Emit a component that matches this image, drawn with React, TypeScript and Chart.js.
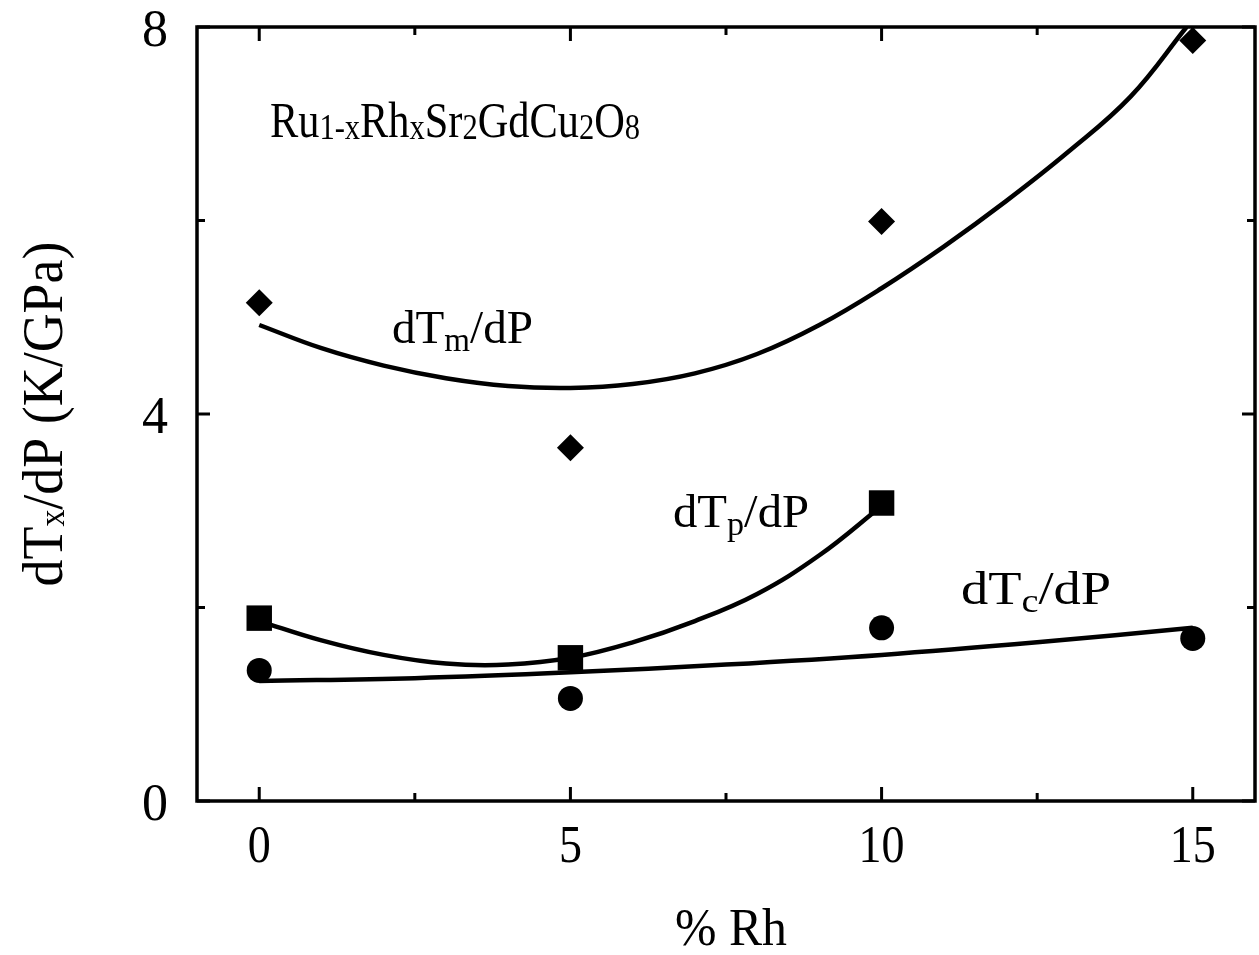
import React, { useEffect, useRef } from 'react';
import { Chart, registerables } from 'chart.js';

Chart.register(...registerables);

// ---- data ----
const rhPercent = [0, 5, 10, 15];
const dTmValues = [5.15, 3.65, 5.99, 7.86];
const dTpX = [0, 5, 10];
const dTpValues = [1.89, 1.48, 3.08];
const dTcValues = [1.35, 1.06, 1.79, 1.68];

// fitted guide curves
const fitTmX = [0, 1, 2, 3, 4, 5, 6, 7, 8, 9, 10, 11, 12, 13, 14, 14.9];
const fitTmY = [4.92, 4.68, 4.5, 4.37, 4.29, 4.27, 4.31, 4.42, 4.62, 4.92, 5.3, 5.73, 6.2, 6.71, 7.28, 8.0];
const fitTpX = [0, 1, 2, 3, 4, 5, 6, 7, 8, 9, 10];
const fitTpY = [1.86, 1.66, 1.51, 1.42, 1.41, 1.48, 1.64, 1.86, 2.14, 2.54, 3.05];
const fitTcX = [0, 2.5, 5, 7.5, 10, 12.5, 15];
const fitTcY = [1.24, 1.27, 1.33, 1.41, 1.51, 1.64, 1.79];

// axes
const xTickValues = [0, 2.5, 5, 7.5, 10, 12.5, 15];
const xTickLabels = ['0', '', '5', '', '10', '', '15'];
const yTickValues = [0, 2, 4, 6, 8];
const yTickLabels = ['0', '', '4', '', '8'];
const xMin = -1;
const xMax = 16;
const yMin = 0;
const yMax = 8;

const xTitle = '% Rh';
const FONT = '"Liberation Serif", "Times New Roman", serif';

type Seg = [string, boolean];

const yTitleSegs: Seg[] = [['dT', false], ['x', true], ['/dP (K/GPa)', false]];
const formulaSegs: Seg[] = [
  ['Ru', false], ['1-x', true], ['Rh', false], ['x', true], ['Sr', false], ['2', true],
  ['GdCu', false], ['2', true], ['O', false], ['8', true],
];
const tmLabel: Seg[] = [['dT', false], ['m', true], ['/dP', false]];
const tpLabel: Seg[] = [['dT', false], ['p', true], ['/dP', false]];
const tcLabel: Seg[] = [['dT', false], ['c', true], ['/dP', false]];

function drawRich(
  ctx: CanvasRenderingContext2D,
  segs: Seg[],
  x: number,
  y: number,
  size: number,
  opts: { width?: number; align?: 'left' | 'center' | 'right'; subScale?: number; subDrop?: number; rotate?: boolean }
) {
  const subScale = opts.subScale ?? 0.7;
  const subDrop = opts.subDrop ?? 0.1;
  let natural = 0;
  const widths: number[] = [];
  for (const [t, sub] of segs) {
    ctx.font = `${Math.round(sub ? size * subScale : size)}px ${FONT}`;
    const w = ctx.measureText(t).width;
    widths.push(w);
    natural += w;
  }
  const sx = opts.width ? opts.width / natural : 1;
  ctx.save();
  ctx.translate(x, y);
  if (opts.rotate) ctx.rotate(-Math.PI / 2);
  ctx.scale(sx, 1);
  let cx = 0;
  if (opts.align === 'center') cx = -natural / 2;
  else if (opts.align === 'right') cx = -natural;
  ctx.textBaseline = 'alphabetic';
  ctx.textAlign = 'left';
  ctx.fillStyle = '#000';
  segs.forEach(([t, sub], i) => {
    ctx.font = `${Math.round(sub ? size * subScale : size)}px ${FONT}`;
    ctx.fillText(t, cx, sub ? subDrop * size : 0);
    cx += widths[i];
  });
  ctx.restore();
}

const framePlugin = {
  id: 'frame',
  afterDraw(chart: any) {
    const { ctx, chartArea } = chart;
    const xs = chart.scales.x;
    const ys = chart.scales.y;
    const { left, right, top, bottom } = chartArea;
    ctx.save();
    ctx.strokeStyle = '#000';
    ctx.lineWidth = 3.5;
    ctx.strokeRect(left, top, right - left, bottom - top);

    ctx.lineWidth = 3;
    ctx.beginPath();
    xTickValues.forEach((v, i) => {
      const px = xs.getPixelForValue(v);
      const len = xTickLabels[i] ? 14 : 8;
      ctx.moveTo(px, bottom);
      ctx.lineTo(px, bottom - len);
      ctx.moveTo(px, top);
      ctx.lineTo(px, top + len);
    });
    yTickValues.forEach((v, i) => {
      const py = ys.getPixelForValue(v);
      const len = yTickLabels[i] ? 13 : 8;
      ctx.moveTo(left, py);
      ctx.lineTo(left + len, py);
      ctx.moveTo(right, py);
      ctx.lineTo(right - len, py);
    });
    ctx.stroke();

    // tick labels
    xTickValues.forEach((v, i) => {
      if (!xTickLabels[i]) return;
      const px = xs.getPixelForValue(v);
      drawRich(ctx, [[xTickLabels[i], false]], px, 862, 52, { align: 'center', width: xTickLabels[i].length * 23 });
    });
    yTickValues.forEach((v, i) => {
      if (!yTickLabels[i]) return;
      const py = ys.getPixelForValue(v);
      drawRich(ctx, [[yTickLabels[i], false]], left - 29, py + 18.5, 52, { align: 'right' });
    });

    // axis titles
    drawRich(ctx, [[xTitle, false]], 731, 945, 52, { align: 'center', width: 112 });
    drawRich(ctx, yTitleSegs, 62, 414, 56, { align: 'center', width: 345, rotate: true, subDrop: 0.03, subScale: 0.62 });

    // annotations
    drawRich(ctx, formulaSegs, 270, 137, 50, { width: 370, subDrop: 0.04, subScale: 0.72 });
    drawRich(ctx, tmLabel, 392, 343, 47, { width: 141, subDrop: 0.16 });
    drawRich(ctx, tpLabel, 673, 527, 47, { width: 136, subDrop: 0.16 });
    drawRich(ctx, tcLabel, 961, 604, 47, { width: 150, subDrop: 0.16 });
    ctx.restore();
  },
};

function pts(xa: number[], ya: number[]) {
  return xa.map((x, i) => ({ x, y: ya[i] }));
}

export default function App() {
  const ref = useRef<HTMLCanvasElement | null>(null);
  useEffect(() => {
    if (!ref.current) return;
    const lineBase = {
      type: 'line' as const,
      showLine: true,
      borderColor: '#000',
      borderWidth: 4.5,
      pointRadius: 0,
      fill: false,
      tension: 0.4,
    };
    const chart = new Chart(ref.current, {
      type: 'scatter',
      data: {
        datasets: [
          { ...lineBase, label: 'fit Tm', data: pts(fitTmX, fitTmY) },
          { ...lineBase, label: 'fit Tp', data: pts(fitTpX, fitTpY) },
          { ...lineBase, label: 'fit Tc', data: pts(fitTcX, fitTcY) },
          {
            label: 'dTm/dP',
            data: pts(rhPercent, dTmValues),
            pointStyle: 'rectRot',
            pointRadius: 13.5,
            backgroundColor: '#000',
            borderColor: '#000',
            borderWidth: 0,
          },
          {
            label: 'dTp/dP',
            data: pts(dTpX, dTpValues),
            pointStyle: 'rect',
            pointRadius: 18,
            backgroundColor: '#000',
            borderColor: '#000',
            borderWidth: 0,
          },
          {
            label: 'dTc/dP',
            data: pts(rhPercent, dTcValues),
            pointStyle: 'circle',
            pointRadius: 12.5,
            backgroundColor: '#000',
            borderColor: '#000',
            borderWidth: 0,
          },
        ],
      },
      options: {
        responsive: false,
        animation: false,
        layout: { autoPadding: false, padding: { top: 27, right: 4, left: 0, bottom: 0 } },
        plugins: { legend: { display: false }, tooltip: { enabled: false } },
        scales: {
          x: {
            type: 'linear',
            min: xMin,
            max: xMax,
            grid: { display: false, drawTicks: false },
            border: { display: false },
            ticks: { display: false },
            afterFit: (s: any) => {
              s.height = 154;
            },
          },
          y: {
            type: 'linear',
            min: yMin,
            max: yMax,
            grid: { display: false, drawTicks: false },
            border: { display: false },
            ticks: { display: false },
            afterFit: (s: any) => {
              s.width = 197;
            },
          },
        },
      },
      plugins: [framePlugin],
    });
    return () => chart.destroy();
  }, []);
  return (
    <div style={{ position: 'absolute', left: 0, top: 0, width: 1259, height: 955, background: '#fff' }}>
      <canvas ref={ref} width={1259} height={955} style={{ display: 'block' }} />
    </div>
  );
}
